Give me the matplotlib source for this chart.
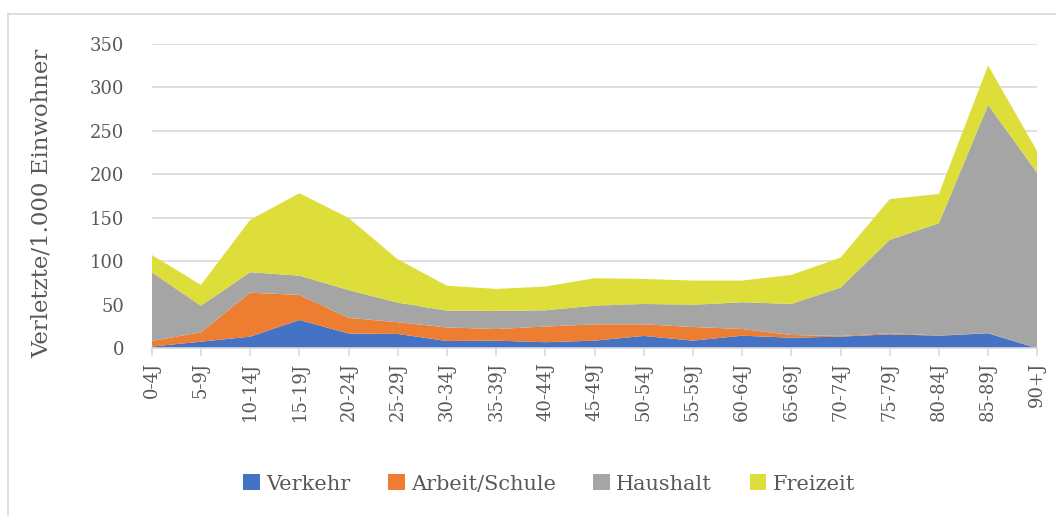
import matplotlib
matplotlib.use('Agg')
import matplotlib.pyplot as plt
from matplotlib.lines import Line2D
from matplotlib.patches import Patch

# --- data ---
groups = ['0-4J', '5-9J', '10-14J', '15-19J', '20-24J', '25-29J', '30-34J',
          '35-39J', '40-44J', '45-49J', '50-54J', '55-59J', '60-64J',
          '65-69J', '70-74J', '75-79J', '80-84J', '85-89J', '90+J']
verkehr = [2, 7.6, 13.4, 32.6, 17, 16.5, 8.4, 8.8, 7, 8.8, 14.2, 8.8,
           14.5, 12.2, 13.4, 16.1, 14.5, 17.3, 0]
arbeit = [6.4, 10.8, 50.6, 28.8, 18, 13.5, 15.6, 13.4, 18, 18.8, 13.4,
          15.7, 7.7, 3.1, 0.8, 1.2, 0.3, 0.2, 0]
haushalt = [79.1, 30.6, 23.5, 22.2, 32, 22.5, 19.3, 20.8, 18.7, 21.4, 23.4,
            25.5, 30.8, 35.7, 55.6, 107.4, 129.1, 262.5, 201.5]
freizeit = [19.9, 23.9, 60.2, 94.8, 83, 49.9, 28.7, 25.3, 27.3, 31.6, 28.8,
            27.9, 24.9, 33.4, 34.5, 46.8, 33.7, 45.4, 24.9]

names = ['Verkehr', 'Arbeit/Schule', 'Haushalt', 'Freizeit']
colors = ['#4472C4', '#ED7D31', '#A5A5A5', '#DEDE3A']
text_col = '#595959'
grid_col = '#D9D9D9'

plt.rcParams['font.family'] = ['DejaVu Serif']

fig = plt.figure(figsize=(10.56, 5.16), dpi=100)
ax = fig.add_axes([0.1437, 0.325, 0.9823 - 0.1437, 0.9147 - 0.325])

x = list(range(len(groups)))
ax.stackplot(x, verkehr, arbeit, haushalt, freizeit, colors=colors,
             linewidth=0, zorder=2)

ax.set_xlim(0, len(groups) - 1)
ax.set_ylim(0, 350)
ax.set_yticks(range(0, 351, 50))
ax.set_xticks(x)
ax.set_xticklabels(groups, rotation=90, ha='center', va='top')
ax.grid(axis='y', color=grid_col, linewidth=1.2, zorder=0)
ax.set_axisbelow(True)

for s in ['top', 'right', 'left']:
    ax.spines[s].set_visible(False)
ax.spines['bottom'].set_color(grid_col)
ax.spines['bottom'].set_linewidth(1.2)
ax.spines['bottom'].set_zorder(3)

ax.tick_params(axis='y', length=0, pad=20, labelsize=13, labelcolor=text_col)
ax.tick_params(axis='x', length=6, width=1.2, color=grid_col, pad=4,
               labelsize=13, labelcolor=text_col)

fig.text(42 / 1056, 1 - 203 / 516, 'Verletzte/1.000 Einwohner', rotation=90,
         ha='center', va='center', fontsize=16.5, color=text_col)

handles = [Patch(facecolor=c, edgecolor='none') for c in colors]
fig.legend(handles, names, loc='center', ncol=4, frameon=False,
           bbox_to_anchor=(549 / 1056, 1 - 484 / 516), fontsize=15,
           labelcolor=text_col, handlelength=0.8, handleheight=0.8,
           handletextpad=0.3, columnspacing=1.8)

# chart frame (left and top edge visible)
fig.add_artist(Line2D([8 / 1056, 8 / 1056], [0, 1 - 14 / 516],
                      transform=fig.transFigure, color=grid_col, linewidth=1.2))
fig.add_artist(Line2D([8 / 1056, 1], [1 - 14 / 516, 1 - 14 / 516],
                      transform=fig.transFigure, color=grid_col, linewidth=1.2))

fig.savefig('out.png', dpi=100)
